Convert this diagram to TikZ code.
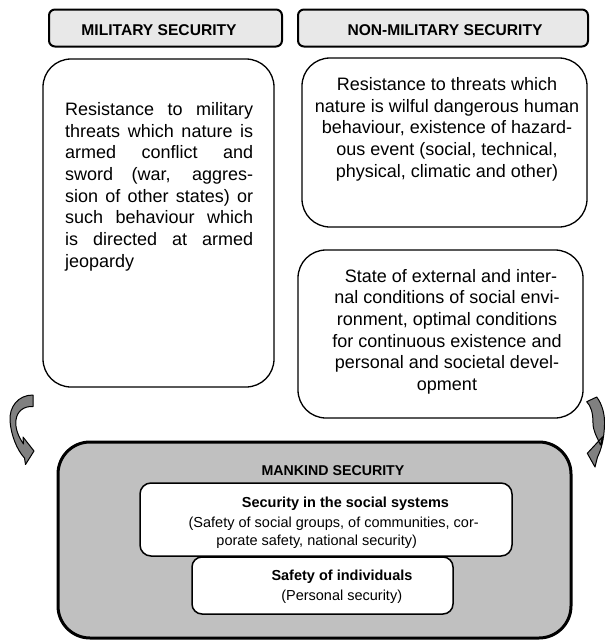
\documentclass[tikz,border=0pt]{standalone}
\usepackage{fontspec}
\setmainfont{Liberation Sans}
\definecolor{hdrgray}{RGB}{232,232,232}
\definecolor{biggray}{RGB}{192,192,192}
\definecolor{arrgray}{RGB}{128,128,128}
\begin{document}
\begin{tikzpicture}[x=1pt,y=-1pt,
  hdrbox/.style={draw=black, line width=2pt, rounded corners=6pt, fill=hdrgray},
  hdrtext/.style={anchor=base, inner sep=0pt, font=\fontsize{15.6}{18}\selectfont\bfseries},
  txtbox/.style={draw=black, line width=1.3pt, rounded corners=28pt, fill=white},
  bodytext/.style={inner sep=0pt, font=\fontsize{18}{21.7}\selectfont},
  bigbox/.style={draw=black, line width=3pt, rounded corners=32pt, fill=biggray},
  inbox/.style={draw=black, line width=1.5pt, rounded corners=11pt, fill=white},
  smalltext/.style={anchor=base, inner sep=0pt, font=\fontsize{14.5}{18}\selectfont},
  smallbold/.style={anchor=base, inner sep=0pt, font=\fontsize{14.5}{18}\selectfont\bfseries},
  curvarrow/.style={draw=black, line width=1pt, fill=arrgray, line join=round}]
\useasboundingbox (0,0) rectangle (605,641);

% headers
\draw[hdrbox] (49,9.5) rectangle (282,46.5);
\node[hdrtext] (hmil) at (159,35.2) {MILITARY SECURITY};
\draw[hdrbox] (298,9.5) rectangle (588,46.5);
\node[hdrtext] (hnon) at (445,35.5) {NON-MILITARY SECURITY};

% left box
\draw[txtbox] (43,59) rectangle (274,387);
\node[bodytext, anchor=north west, text width=188pt, align=justify] (ltext) at (65,102.1)
 {\noindent Resistance to military\linebreak
  threats which nature is\linebreak
  armed conflict and\linebreak
  sword (war, aggres-\linebreak
  sion of other states) or\linebreak
  such behaviour which\linebreak
  is directed at armed\linebreak
  jeopardy};

% right top box
\draw[txtbox] (302,58) rectangle (587,227);
\node[bodytext, anchor=north, align=center] (rtext1) at (447,77.1)
 {Resistance to threats which\\
  nature is wilful dangerous human\\
  behaviour, existence of hazard-\\
  ous event (social, technical,\\
  physical, climatic and other)};

% right bottom box
\draw[txtbox] (298,250) rectangle (583,418);
\node[bodytext, anchor=north, align=center] (rtext2) at (447,268.8)
 {\hspace*{8pt}State of external and inter-\\
  nal conditions of social envi-\\
  ronment, optimal conditions\\
  for continuous existence and\\
  personal and societal devel-\\
  opment};

% curved arrows
\draw[curvarrow] (33,395) .. controls (18,395) and (9,407) .. (10,421)
  .. controls (11,435) and (17,450) .. (24.5,458)
  -- (25.5,464.5) -- (34,451) -- (23,437) -- (23.5,444)
  .. controls (18,436) and (15,428) .. (16,420)
  .. controls (17,411) and (24,406) .. (33,406.5) -- cycle;
\draw[curvarrow] (596.7,397) .. controls (602,404) and (605,414) .. (604.5,425)
  .. controls (604,440) and (601,450) .. (597.5,457)
  -- (595,467) -- (587.3,453.3) -- (602.7,436.7) -- (600.5,445)
  .. controls (597,437) and (593,431) .. (593,423)
  .. controls (593,413) and (591,406) .. (586.7,401.7) -- cycle;

% mankind security
\draw[bigbox] (58,442) rectangle (571,638);
\node[smallbold, font=\fontsize{14.2}{18}\selectfont\bfseries] (mank) at (333,475) {MANKIND SECURITY};

\draw[inbox] (140,483) rectangle (512,556);
\node[smallbold] (soc1) at (345.5,507) {Security in the social systems};
\node[smalltext] (soc2) at (333.7,527) {(Safety of social groups, of communities, cor-};
\node[smalltext] (soc3) at (316.7,545) {porate safety, national security)};

\draw[inbox, rounded corners=10pt] (192,557) rectangle (453,614);
\node[smallbold] (ind1) at (342,580) {Safety of individuals};
\node[smalltext] (ind2) at (341.7,600) {(Personal security)};
\end{tikzpicture}
\end{document}
